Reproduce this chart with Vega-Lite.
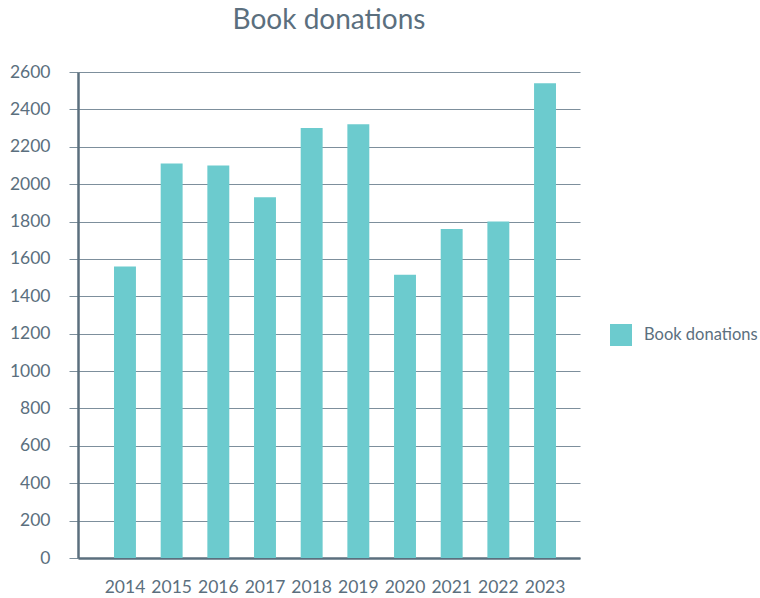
{
  "$schema": "https://vega.github.io/schema/vega-lite/v6.json",
  "autosize": {"type": "none"},
  "padding": {"left": 78, "top": 72, "right": 180, "bottom": 40},
  "width": 502,
  "height": 486,
  "background": "white",
  "title": {
    "text": "Book donations",
    "fontSize": 28,
    "font": "Lato",
    "fontWeight": "normal",
    "color": "#5b6f7e",
    "anchor": "middle",
    "offset": 28
  },
  "data": {
    "values": [
      {"year": "2014", "value": 1560, "series": "Book donations"},
      {"year": "2015", "value": 2110, "series": "Book donations"},
      {"year": "2016", "value": 2100, "series": "Book donations"},
      {"year": "2017", "value": 1930, "series": "Book donations"},
      {"year": "2018", "value": 2300, "series": "Book donations"},
      {"year": "2019", "value": 2320, "series": "Book donations"},
      {"year": "2020", "value": 1515, "series": "Book donations"},
      {"year": "2021", "value": 1760, "series": "Book donations"},
      {"year": "2022", "value": 1800, "series": "Book donations"},
      {"year": "2023", "value": 2540, "series": "Book donations"}
    ]
  },
  "mark": {"type": "bar"},
  "encoding": {
    "x": {
      "field": "year",
      "type": "nominal",
      "scale": {"paddingInner": 0.53, "paddingOuter": 0.643, "align": 0.6},
      "axis": {
        "title": null,
        "labelAngle": 0,
        "labelFont": "Lato",
        "labelFontSize": 17.5,
        "labelColor": "#5b6f7e",
        "ticks": false,
        "labelPadding": 20,
        "domainColor": "#5b6f7e",
        "domainWidth": 2.5,
        "grid": false
      }
    },
    "y": {
      "field": "value",
      "type": "quantitative",
      "scale": {"domain": [0, 2600], "nice": false},
      "axis": {
        "title": null,
        "values": [0, 200, 400, 600, 800, 1000, 1200, 1400, 1600, 1800, 2000, 2200, 2400, 2600],
        "format": "d",
        "labelFont": "Lato",
        "labelFontSize": 17.5,
        "labelColor": "#5b6f7e",
        "labelPadding": 19,
        "tickSize": 9,
        "tickColor": "#7d8f9c",
        "gridColor": "#7d8f9c",
        "gridWidth": 1,
        "domainColor": "#5b6f7e",
        "domainWidth": 2.5
      }
    },
    "color": {
      "field": "series",
      "type": "nominal",
      "scale": {"range": ["#6ccbce"]},
      "legend": {
        "title": null,
        "orient": "none",
        "legendX": 532,
        "legendY": 252,
        "symbolType": "square",
        "symbolSize": 484,
        "symbolStrokeWidth": 0,
        "labelFont": "Lato",
        "labelFontSize": 16.5,
        "labelColor": "#5b6f7e",
        "labelOffset": 12
      }
    }
  },
  "config": {"view": {"stroke": null}}
}
